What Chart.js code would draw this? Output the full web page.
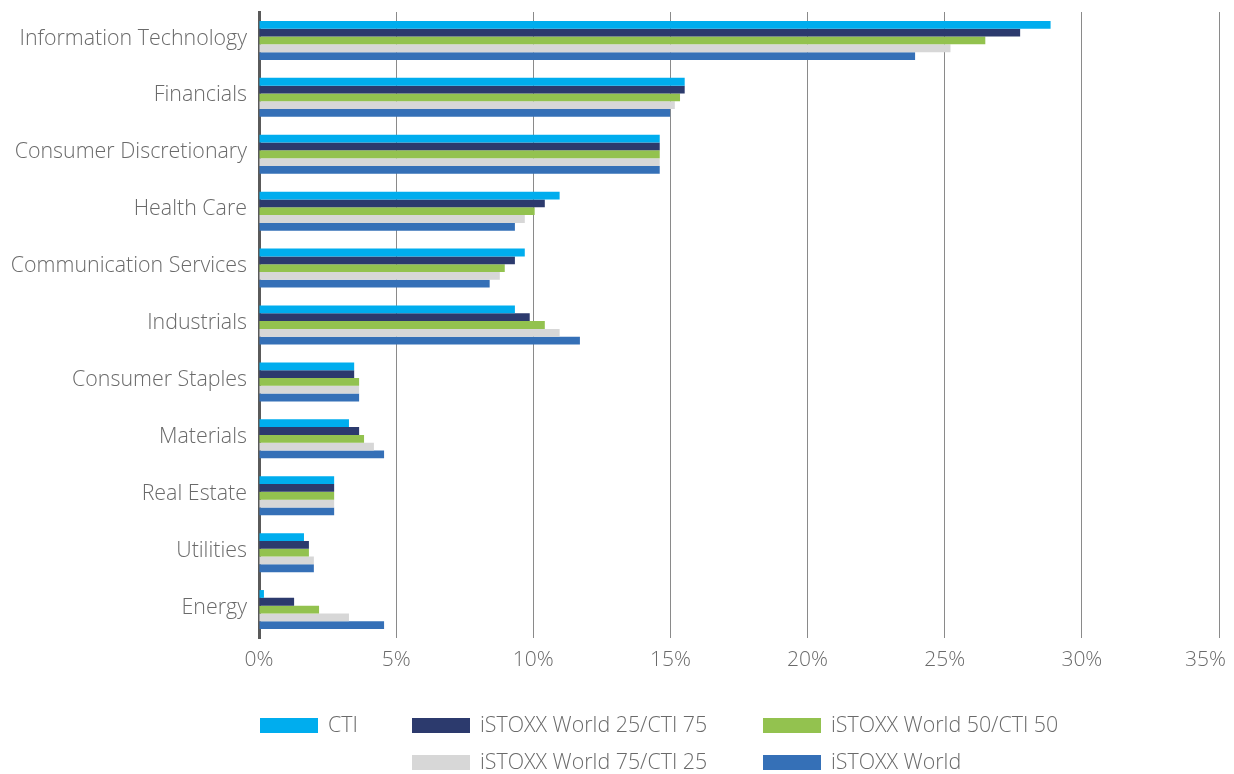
<!DOCTYPE html>
<html>
<head>
<meta charset="utf-8">
<script src="https://cdn.jsdelivr.net/npm/chart.js@4/dist/chart.umd.min.js"></script>
<style>
  html, body { margin: 0; padding: 0; background: #ffffff; }
  #wrap { width: 1234px; height: 774px; position: relative; }
</style>
</head>
<body>
<div id="wrap"><canvas id="c" width="1234" height="774"></canvas></div>
<script>
// Sector weights (%) by index variant
const sectors = [
  'Information Technology', 'Financials', 'Consumer Discretionary', 'Health Care',
  'Communication Services', 'Industrials', 'Consumer Staples', 'Materials',
  'Real Estate', 'Utilities', 'Energy'
];
const seriesNames = [
  'CTI', 'iSTOXX World 25/CTI 75', 'iSTOXX World 50/CTI 50',
  'iSTOXX World 75/CTI 25', 'iSTOXX World'
];
const cti       = [28.86, 15.52, 14.61, 10.96, 9.69, 9.33, 3.47, 3.28, 2.74, 1.64, 0.18];
const world2575 = [27.75, 15.52, 14.61, 10.42, 9.33, 9.87, 3.47, 3.65, 2.74, 1.82, 1.28];
const world5050 = [26.48, 15.35, 14.61, 10.05, 8.96, 10.42, 3.65, 3.83, 2.74, 1.82, 2.19];
const world7525 = [25.21, 15.16, 14.61, 9.69, 8.78, 10.96, 3.65, 4.19, 2.74, 2.00, 3.28];
const world     = [23.92, 14.99, 14.61, 9.33, 8.41, 11.70, 3.65, 4.56, 2.74, 2.00, 4.56];
const xTicks = [0, 5, 10, 15, 20, 25, 30, 35];

const colors = ['#00adee', '#2c3a6d', '#93c24f', '#d7d7d7', '#3570b7'];
const values = [cti, world2575, world5050, world7525, world];

const FONT = '"Open Sans", "DejaVu Sans", sans-serif';
const TEXT = '#6a6a6a';
const FONT_SIZE = 21.4;

// Percentage labels under the x axis; the last one is kept inside the canvas
const xLabels = {
  id: 'xLabels',
  afterDraw(chart) {
    const ctx = chart.ctx;
    const sx = chart.scales.x;
    ctx.save();
    ctx.font = '300 21px ' + FONT;
    ctx.fillStyle = TEXT;
    ctx.textBaseline = 'middle';
    sx.ticks.forEach(t => {
      const label = t.value + '%';
      const w = ctx.measureText(label).width;
      let x = sx.getPixelForValue(t.value) - w / 2;
      x = Math.min(x, chart.width - 8 - w);
      ctx.fillText(label, x, chart.chartArea.bottom + 22);
    });
    ctx.restore();
  }
};

// Two-row legend laid out on a three-column grid below the plot
const legendGrid = {
  id: 'legendGrid',
  afterDraw(chart) {
    const ctx = chart.ctx;
    const cols = [260, 412, 763];
    const rows = [725, 762];
    const slots = [[0, 0], [1, 0], [2, 0], [1, 1], [2, 1]];
    ctx.save();
    ctx.font = '300 ' + FONT_SIZE + 'px ' + FONT;
    ctx.textBaseline = 'middle';
    ctx.textAlign = 'left';
    chart.data.datasets.forEach((ds, i) => {
      const [c, r] = slots[i];
      const x = cols[c], y = rows[r];
      ctx.fillStyle = ds.backgroundColor;
      ctx.fillRect(x, y - 7, 58, 15);
      ctx.fillStyle = TEXT;
      ctx.fillText(ds.label, x + 68, y + 1);
    });
    ctx.restore();
  }
};

new Chart(document.getElementById('c'), {
  type: 'bar',
  data: {
    labels: sectors,
    datasets: seriesNames.map((name, i) => ({
      label: name,
      data: values[i],
      backgroundColor: colors[i],
      borderWidth: 0,
      barPercentage: 1,
      categoryPercentage: 0.685
    }))
  },
  options: {
    indexAxis: 'y',
    responsive: false,
    animation: false,
    layout: { padding: { top: 12, right: 15, bottom: 96, left: 0 } },
    plugins: {
      legend: { display: false },
      tooltip: { enabled: false }
    },
    scales: {
      x: {
        min: 0,
        max: 35,
        afterBuildTicks(scale) {
          scale.ticks = xTicks.map(v => ({ value: v }));
        },
        afterFit(scale) {
          scale.height = 40;
          scale.paddingRight = 0;
          scale.paddingLeft = 0;
        },
        grid: { color: '#8a8a8a', lineWidth: 1, drawTicks: false },
        border: { display: false },
        ticks: { display: false }
      },
      y: {
        afterFit(scale) {
          scale.width = 259;
          scale.paddingTop = 0;
          scale.paddingBottom = 0;
        },
        grid: { display: true, drawOnChartArea: false, drawTicks: false },
        border: { display: true, color: '#5a5a5a', width: 3 },
        ticks: {
          padding: 12,
          labelOffset: -2,
          color: TEXT,
          font: { family: FONT, size: FONT_SIZE, weight: '300' }
        }
      }
    }
  },
  plugins: [xLabels, legendGrid]
});
</script>
</body>
</html>
